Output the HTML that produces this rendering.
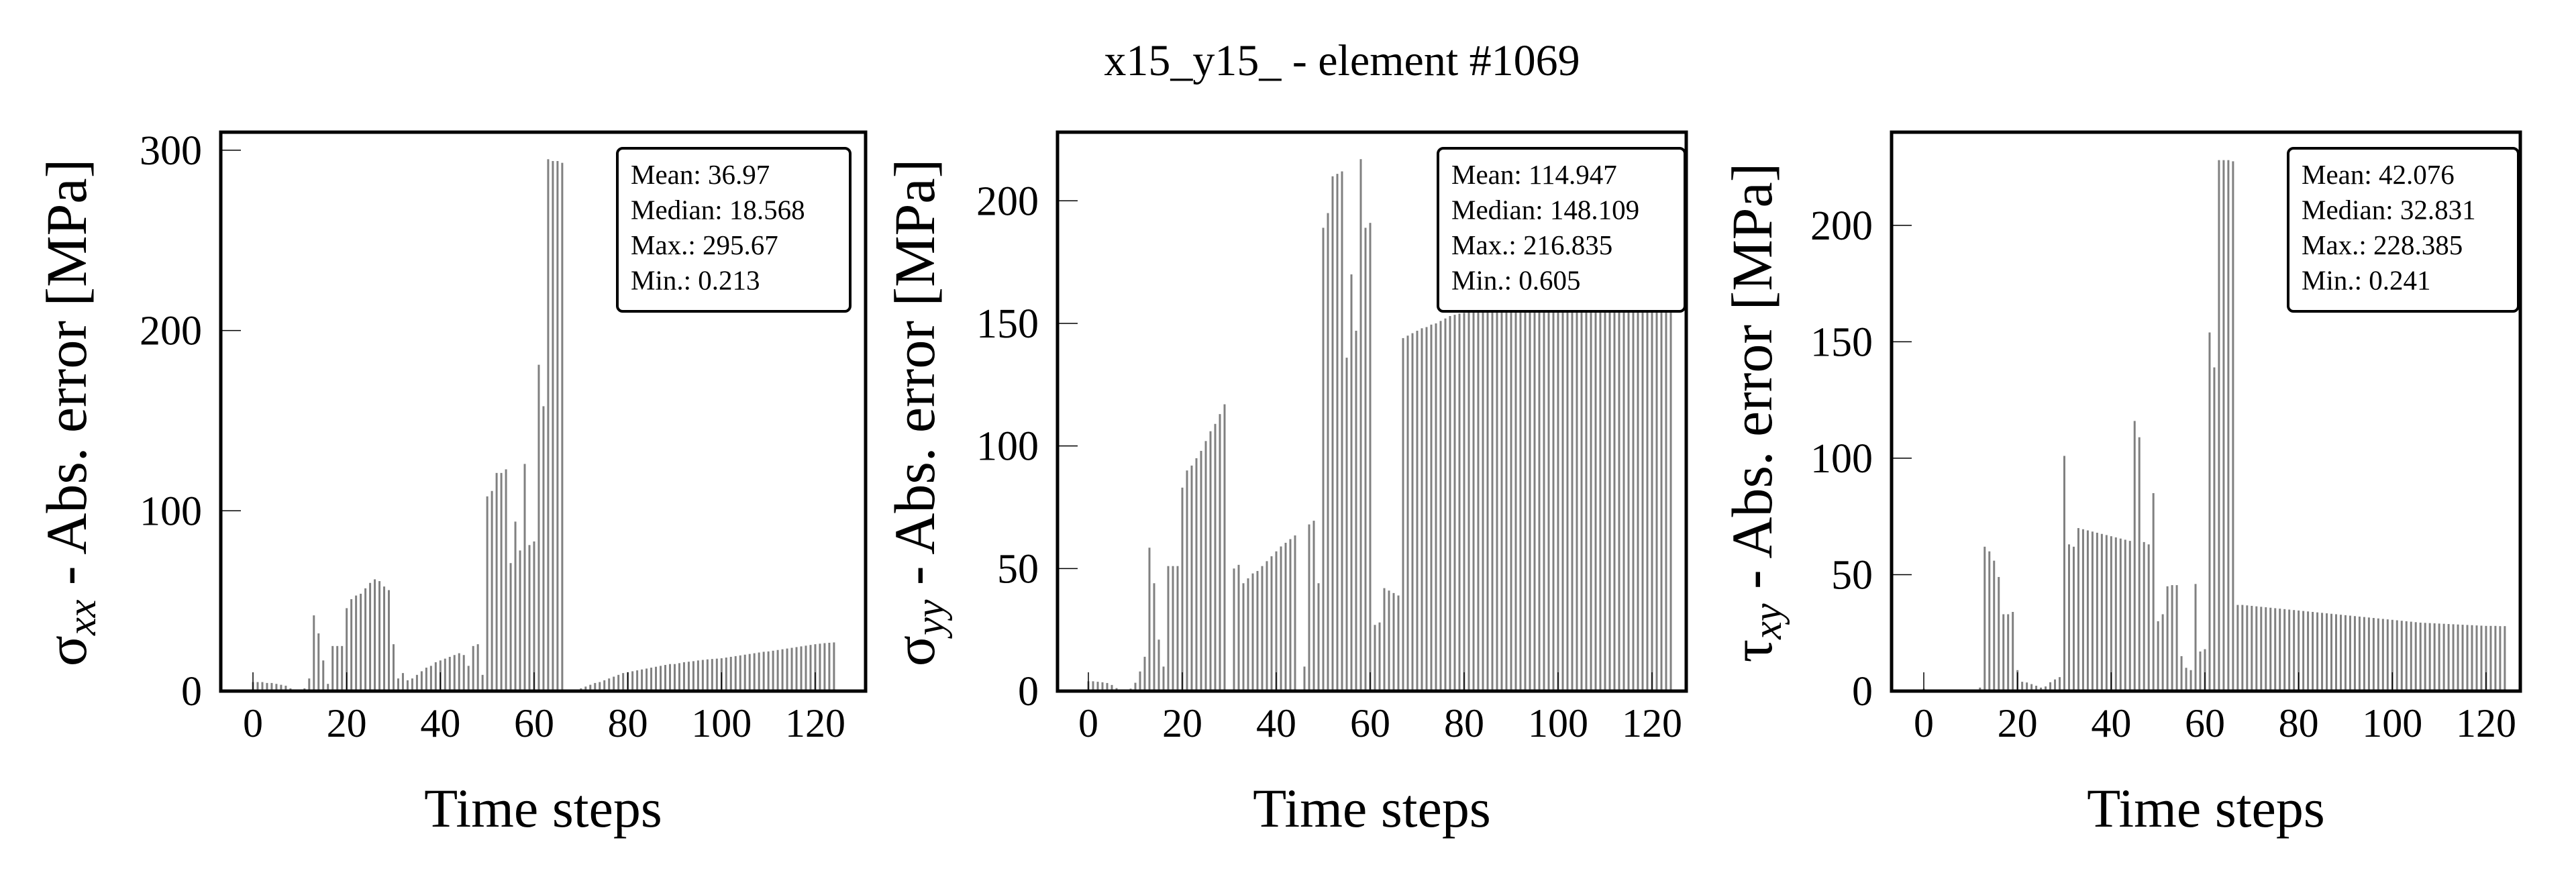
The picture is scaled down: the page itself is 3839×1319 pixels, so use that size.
<!DOCTYPE html>
<html><head><meta charset="utf-8">
<style>
html,body{margin:0;padding:0;background:#fff;}
svg{display:block;font-family:"Liberation Serif",serif;}
</style></head>
<body>
<svg id="chart" width="3839" height="1319" viewBox="0 0 3839 1319" xmlns="http://www.w3.org/2000/svg">
<text x="2000" y="112" font-size="66" text-anchor="middle">x15_y15_ - element #1069</text>
</svg>
<script>
const xTicks = [0,20,40,60,80,100,120];
const sxxTicks = [0,100,200,300];
const syyTicks = [0,50,100,150,200];
const txyTicks = [0,50,100,150,200];
const sxxValues = [5,5,5,4.5,4.5,4,3.5,3,1.5,0.3,0.3,1.5,
7,42,32,17,4,25,25,25,
46,51,53,54,57,60,62,61,58,56,
26,7,10,6,7,9,11,13,14,16,
17,18,19,20,21,20,14,25,26,9,
108,111,121,121,123,71,94,78,126,81,
83,181,158,295,294,294,293,
0.3,0.3,0.3,
1.5,2.5,3.5,4.5,5,6,7,8,9,10,
10.5,11,11.5,12,12.5,13,13.5,14,14.5,15,
15,15.5,16,16.3,16.6,17,17.3,17.6,17.8,18,
18.2,18.6,19,19.4,19.8,20.2,20.6,21,21.4,21.8,
22,22.4,22.8,23.2,23.6,24,24.4,24.8,25.2,25.6,
26,26.3,26.6,26.8,27];
const syyValues = [4,4,3.8,3.6,3.3,2.5,1.2,0.6,0.6,1,3.4,8,
14,58.5,44,21,10,51,51,51,
83,90,92,95,98,102,106,109,113,117,
0.6,
50,51.5,44,46,48,49,51,53,55,57,59,60.5,62,63.5,
0.6,10,68,69.5,44,
189,195,210,211,212,136,170,147,217,189,191,
27,28,42,41,40,39,
144,145,146,147,148,148.5,149.5,150,151,152,153,
153.5,154,154.3,154.6,155,155.3,155.6,156,156.3,156.6,157,157.3,157.6,158,158.3,158.6,159,159.3,159.6,160,
160.3,160.6,161,161.3,161.6,162,162.3,162.6,163,163.3,163.6,164,164.3,164.6,165,165.3,165.6,166,166.3,166.6,
167,167.2,167.4,167.6,167.8,168,168.2];
const txyValues = [1,0.5,0.5,0.5,0.5,0.3,0.3,0.3,0.3,0.3,0.3,0.5,
1.5,62,60,56,49,33,33,34,
9,4,3.7,3,2.3,1.5,2,3.8,5,6,
101,63,62,70,69.5,69,68.5,68,67.5,67,
66.5,66,65.5,65,64.5,116,109,64,63,85,
30,33,45,45.5,45.5,15,10,9,46,17,18,
154,139,228,228,228,227.5,
37,37,36.8,36.6,36.4,36.2,36,35.8,35.6,35.4,
35.2,35,34.8,34.6,34.4,34.2,34,33.8,33.6,33.4,
33.2,33,32.8,32.6,32.4,32.2,32,31.8,31.6,31.4,
31.2,31,30.8,30.6,30.4,30.2,30,29.8,29.6,29.4,
29.3,29.2,29.1,29,28.9,28.8,28.7,28.6,28.5,28.4,
28.3,28.2,28.1,28,28,28,27.9,27.9];
const sxxStats = ["Mean: 36.97","Median: 18.568","Max.: 295.67","Min.: 0.213"];
const syyStats = ["Mean: 114.947","Median: 148.109","Max.: 216.835","Min.: 0.605"];
const txyStats = ["Mean: 42.076","Median: 32.831","Max.: 228.385","Min.: 0.241"];

const NS = "http://www.w3.org/2000/svg";
const svg = document.getElementById('chart');
function mk(tag, attrs, parent){
  const e = document.createElementNS(NS, tag);
  for (const k in attrs) e.setAttribute(k, attrs[k]);
  (parent||svg).appendChild(e);
  return e;
}
const panels = [
  {key:'sxx', left:329, right:1290, x0:377, step:6.983, yMax:310, vals:sxxValues, ticks:sxxTicks, stats:sxxStats, lx:920, lw:347, sym:'σ', sub:'xx', tx:98},
  {key:'syy', left:1576, right:2513, x0:1622, step:7.0, yMax:228, vals:syyValues, ticks:syyTicks, stats:syyStats, lx:2143, lw:368, sym:'σ', sub:'yy', tx:1362},
  {key:'txy', left:2819, right:3756, x0:2867, step:6.983, yMax:240, vals:txyValues, ticks:txyTicks, stats:txyStats, lx:3410, lw:343, sym:'τ', sub:'xy', tx:2610}
];
const TOP = 197, BOT = 1030;
panels.forEach(p => {
  const g = mk('g', {});
  
  
  const xS = v => p.x0 + v * p.step;
  const yS = v => BOT - v / p.yMax * (BOT - TOP);
  p.vals.forEach((v, i) => {
    const r = mk('rect', {x: xS(i) - 1.5, y: yS(v), width: 3, height: BOT - yS(v), fill: '#808080'}, g);
    
    
  });
  xTicks.forEach(t => {
    const l = mk('line', {x1: xS(t), x2: xS(t), y1: BOT, y2: BOT - 28, stroke: '#000', 'stroke-width': 1.5}, g);
    
    
    const tx = mk('text', {x: xS(t), y: 1098, 'font-size': 60, 'text-anchor': 'middle'}, g);
    tx.textContent = t;
    
    
  });
  p.ticks.forEach(t => {
    const l = mk('line', {x1: p.left, x2: p.left + 30, y1: yS(t), y2: yS(t), stroke: '#000', 'stroke-width': 1.5}, g);
    
    
    const tx = mk('text', {x: p.left - 28, y: yS(t) + 21, 'font-size': 62, 'text-anchor': 'end'}, g);
    tx.textContent = t;
    
    
  });
  const fr = mk('rect', {x: p.left, y: TOP, width: p.right - p.left, height: BOT - TOP, fill: 'none', stroke: '#000', 'stroke-width': 5}, g);
  
  
  const lg = mk('rect', {x: p.lx, y: 221, width: p.lw, height: 243, rx: 8, fill: '#fff', stroke: '#000', 'stroke-width': 4}, g);
  
  
  p.stats.forEach((s, i) => {
    const tx = mk('text', {x: p.lx + 20, y: 274 + i * 52.5, 'font-size': 41}, g);
    tx.textContent = s;
    
    
  });
  const xt = mk('text', {x: (p.left + p.right) / 2, y: 1232, 'font-size': 82, 'text-anchor': 'middle'}, g);
  xt.textContent = 'Time steps';
  
  
  const yt = mk('text', {x: 0, y: 0, 'font-size': 86, 'text-anchor': 'middle', transform: 'translate(' + (p.tx + 30) + ',615) rotate(-90)'}, g);
  
  
  const s1 = mk('tspan', {}, yt); s1.textContent = p.sym;
  const s2 = mk('tspan', {'font-style': 'italic', 'font-size': 60, dy: 14}, yt); s2.textContent = p.sub;
  const s3 = mk('tspan', {dy: -14}, yt); s3.textContent = ' - Abs. error [MPa]';
});
</script>
</body></html>
